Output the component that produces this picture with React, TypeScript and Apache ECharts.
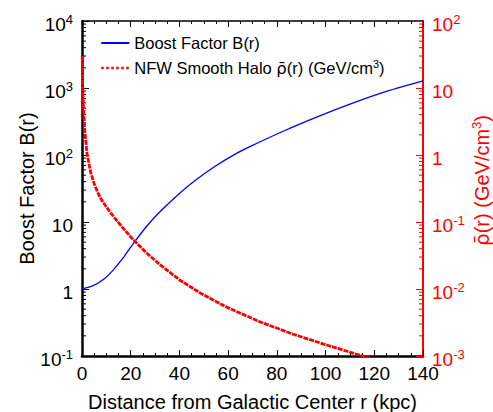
import React, { useEffect, useRef } from "react";
import * as echarts from "echarts";

// Boost factor B(r) (left axis)
const boostR = [0, 4.4, 8.6, 12.7, 16.8, 20.9, 26.4, 31.9, 40.1, 46.3, 54.5, 62.7, 68.9, 82.6, 96.3, 110.0, 123.7, 140];
const boostB = [1.0, 1.11, 1.37, 1.9, 2.88, 4.68, 8.5, 14.1, 26.9, 41.2, 67.3, 102, 133, 226, 367, 575, 861, 1274];

// NFW smooth halo density rho(r) in GeV/cm^3 (right axis)
const haloR = [0.1, 0.25, 0.6, 1.1, 2.0, 3.6, 5.0, 6.4, 8.0, 9.8, 11.5, 13.2, 16.0, 20.9, 26.4, 31.9, 40.1, 48.3, 59.3, 73.0, 86.7, 100.4, 112.8, 120];
const haloRho = [30, 10.6, 5.3, 2.4, 1.07, 0.54, 0.372, 0.279, 0.214, 0.172, 0.141, 0.1175, 0.0881, 0.055, 0.0347, 0.0232, 0.01365, 0.00881, 0.00537, 0.00324, 0.00211, 0.00146, 0.00106, 0.00089];

const xMin = 0;
const xMax = 140;
const xInterval = 20;
const leftMin = 0.1;
const leftMax = 10000;
const rightMin = 0.001;
const rightMax = 100;

const seriesNames = ["Boost Factor B(r)", "NFW Smooth Halo"];
const legendLabels: Record<string, string> = {
  "Boost Factor B(r)": "Boost Factor B(r)",
  "NFW Smooth Halo": "NFW Smooth Halo {rho|\u03C1\u0304}(r) (GeV/cm{sup|3})",
};

const FONT = "'Liberation Sans', Arial, Helvetica, sans-serif";
const RHO_FONT = "'DejaVu Sans', 'Noto Sans', sans-serif";
const RED = "#ff0000";
const BLUE = "#0000ff";

const expLabel = (v: number) => {
  const e = Math.round(Math.log10(v));
  if (e === 0) return "{b|1}";
  if (e === 1) return "{b|10}";
  return `{b|10}{sup|${e}}`;
};

const richFor = (color: string) => ({
  b: { fontSize: 19, lineHeight: 16, padding: [7, 0, 0, 0], fontFamily: FONT, color },
  sup: { fontSize: 13, lineHeight: 10, verticalAlign: "top", fontFamily: FONT, color },
});

export default function App() {
  const ref = useRef<HTMLDivElement>(null);

  useEffect(() => {
    document.body.style.margin = "0";
    const chart = echarts.init(ref.current!, null, { renderer: "svg" });
    const option: any = {
      animation: false,
      backgroundColor: "#ffffff",
      grid: { left: 82, right: 70, top: 21, bottom: 56, containLabel: false, outerBoundsMode: "none" },
      legend: {
        orient: "vertical",
        left: 95,
        top: 28,
        itemWidth: 28,
        itemHeight: 20,
        itemGap: 5,
        textStyle: {
          fontSize: 16.5,
          fontFamily: FONT,
          color: "#000",
          lineHeight: 20,
          rich: {
            sup: { fontSize: 11, lineHeight: 8, verticalAlign: "top", fontFamily: FONT, color: "#000" },
            rho: { fontSize: 16.5, lineHeight: 20, fontFamily: RHO_FONT, color: "#000" },
          },
        },
        formatter: (name: string) => legendLabels[name] || name,
        data: [
          { name: seriesNames[0], itemStyle: { opacity: 0 }, lineStyle: { color: BLUE, width: 2 } },
          { name: seriesNames[1], itemStyle: { opacity: 0 }, lineStyle: { color: RED, width: 2.5, type: [2.5, 2.5] } },
        ],
      },
      xAxis: [
        {
          type: "value",
          min: xMin,
          max: xMax,
          interval: xInterval,
          position: "bottom",
          axisLine: { show: true, onZero: false, lineStyle: { color: "#000", width: 2.5 } },
          axisTick: { show: true, inside: true, length: 6, lineStyle: { color: "#000", width: 1 } },
          minorTick: { show: true, splitNumber: 4, length: 3, lineStyle: { color: "#000", width: 1 } },
          splitLine: { show: false },
          axisLabel: { fontSize: 19, fontFamily: FONT, color: "#000", margin: 8 },
          name: "Distance from Galactic Center r (kpc)",
          nameLocation: "middle",
          nameGap: 36,
          nameTextStyle: { fontSize: 20, fontFamily: FONT, color: "#000" },
        },
        {
          type: "value",
          min: xMin,
          max: xMax,
          interval: xInterval,
          position: "top",
          axisLine: { show: true, onZero: false, lineStyle: { color: "#000", width: 1.5 } },
          axisTick: { show: true, inside: true, length: 6, lineStyle: { color: "#000", width: 1 } },
          minorTick: { show: true, splitNumber: 4, length: 3, lineStyle: { color: "#000", width: 1 } },
          splitLine: { show: false },
          axisLabel: { show: false },
        },
      ],
      yAxis: [
        {
          type: "log",
          logBase: 10,
          min: leftMin,
          max: leftMax,
          position: "left",
          axisLine: { show: true, onZero: false, lineStyle: { color: "#000", width: 2.5 } },
          axisTick: { show: true, inside: true, length: 7, lineStyle: { color: "#000", width: 1 } },
          splitLine: { show: false },
          axisLabel: {
            fontSize: 19,
            fontFamily: FONT,
            color: "#000",
            margin: 9,
            align: "right",
            formatter: expLabel,
            rich: richFor("#000"),
          },
          name: "Boost Factor B(r)",
          nameLocation: "middle",
          nameGap: 45,
          nameRotate: 90,
          nameMoveOverlap: false,
          nameTextStyle: { fontSize: 20, fontFamily: FONT, color: "#000" },
        },
        {
          type: "log",
          logBase: 10,
          min: rightMin,
          max: rightMax,
          position: "right",
          axisLine: { show: true, onZero: false, lineStyle: { color: RED, width: 2 } },
          axisTick: { show: true, inside: true, length: 7, lineStyle: { color: RED, width: 1 } },
          splitLine: { show: false },
          axisLabel: {
            fontSize: 19,
            fontFamily: FONT,
            color: RED,
            margin: 9,
            align: "left",
            formatter: expLabel,
            rich: richFor(RED),
          },
          name: "{rho|\u03C1\u0304}(r) (GeV/cm{sup|3})",
          nameLocation: "middle",
          nameGap: 47,
          nameRotate: 90,
          nameMoveOverlap: false,
          nameTextStyle: {
            fontSize: 20,
            fontFamily: FONT,
            color: RED,
            lineHeight: 24,
            padding: [0, 0, 0, 16],
            rich: {
              sup: { fontSize: 13, lineHeight: 10, verticalAlign: "top", fontFamily: FONT, color: RED },
              rho: { fontSize: 20, lineHeight: 24, fontFamily: RHO_FONT, color: RED },
            },
          },
        },
      ],
      series: [
        {
          name: seriesNames[0],
          type: "line",
          xAxisIndex: 0,
          yAxisIndex: 0,
          data: boostR.map((r, i) => [r, boostB[i]]),
          showSymbol: false,
          symbol: "none",
          smooth: 0.2,
          clip: true,
          lineStyle: { color: BLUE, width: 1.3 },
          itemStyle: { color: BLUE },
        },
        {
          name: seriesNames[1],
          type: "line",
          xAxisIndex: 0,
          yAxisIndex: 1,
          data: haloR.map((r, i) => [r, haloRho[i]]),
          showSymbol: false,
          symbol: "none",
          smooth: false,
          clip: true,
          lineStyle: { color: RED, width: 2.8, type: [5, 1], join: "round", cap: "butt" },
          itemStyle: { color: RED },
        },
      ],
    };
    chart.setOption(option);

    // log-spaced minor ticks (2..9 within each decade)
    const minorVals = (lo: number, hi: number) => {
      const out: number[] = [];
      for (let e = Math.round(Math.log10(lo)); e < Math.round(Math.log10(hi)); e++) {
        for (let k = 2; k <= 9; k++) out.push(k * Math.pow(10, e));
      }
      return out;
    };
    const xl = chart.convertToPixel({ xAxisIndex: 0 }, xMin) as number;
    const xr = chart.convertToPixel({ xAxisIndex: 0 }, xMax) as number;
    const elements: any[] = [];
    minorVals(leftMin, leftMax).forEach((v) => {
      const y = chart.convertToPixel({ yAxisIndex: 0 }, v) as number;
      elements.push({
        type: "line",
        silent: true,
        shape: { x1: xl, y1: y, x2: xl + 4, y2: y },
        style: { stroke: "#000", lineWidth: 1 },
      });
    });
    minorVals(rightMin, rightMax).forEach((v) => {
      const y = chart.convertToPixel({ yAxisIndex: 1 }, v) as number;
      elements.push({
        type: "line",
        silent: true,
        shape: { x1: xr, y1: y, x2: xr - 4, y2: y },
        style: { stroke: RED, lineWidth: 1 },
      });
    });
    chart.setOption({ graphic: elements });

    return () => chart.dispose();
  }, []);

  return (
    <div
      ref={ref}
      style={{ position: "fixed", left: 0, top: 0, width: 493, height: 412, background: "#fff" }}
    />
  );
}
